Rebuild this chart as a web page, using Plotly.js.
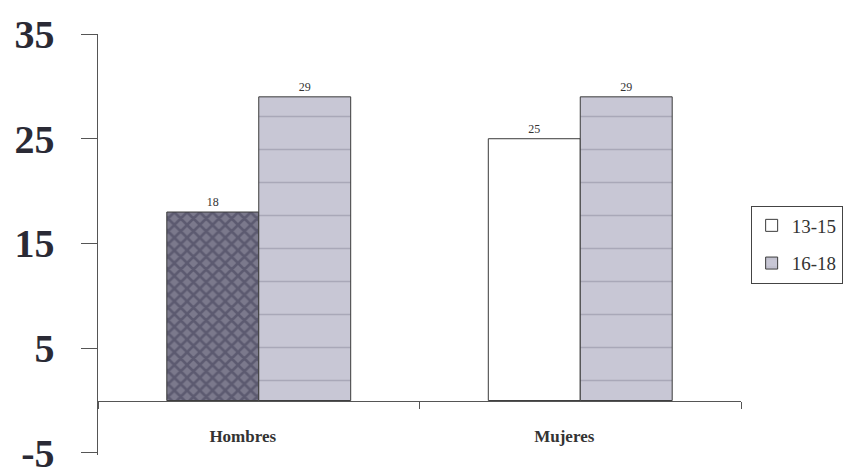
<!DOCTYPE html>
<html>
<head>
<meta charset="utf-8">
<script src="https://cdn.plot.ly/plotly-3.0.1.min.js"></script>
<style>html,body{margin:0;padding:0;background:#fff;}#chart{width:862px;height:475px;}</style>
</head>
<body>
<div id="chart"></div>
<script>
const categories = ['Hombres', 'Mujeres'];
const seriesNames = ['13-15', '16-18'];
const values1315 = [18, 25];
const values1618 = [29, 29];
const yTicks = [-5, 5, 15, 25, 35];

const serif = 'Liberation Serif';
const textFont = {family: serif, size: 12, color: '#333'};

const traces = [
  // 13-15, Mujeres (white bar, shown in legend)
  {
    type: 'bar', name: seriesNames[0], legendgroup: 'a',
    x: [categories[1]], y: [values1315[1]],
    text: [String(values1315[1])], textposition: 'outside', textfont: textFont,
    offsetgroup: '1', cliponaxis: false,
    marker: {color: '#ffffff', line: {color: '#3a3a3a', width: 1}}
  },
  // 13-15, Hombres (dark patterned bar)
  {
    type: 'bar', name: seriesNames[0], legendgroup: 'a', showlegend: false,
    x: [categories[0]], y: [values1315[0]],
    text: [String(values1315[0])], textposition: 'outside', textfont: textFont,
    offsetgroup: '1', cliponaxis: false,
    marker: {color: '#6f6d80', line: {color: '#3a3a3a', width: 1},
             pattern: {shape: 'x', fgcolor: '#5c5a70', bgcolor: '#7b798c', size: 9, solidity: 0.5}}
  },
  // 16-18
  {
    type: 'bar', name: seriesNames[1], legendgroup: 'b',
    x: categories, y: values1618,
    text: values1618.map(String), textposition: 'outside', textfont: textFont,
    offsetgroup: '2', cliponaxis: false,
    marker: {color: '#c6c5d3', line: {color: '#3a3a3a', width: 1},
             pattern: {shape: '-', fgcolor: '#a9a8b8', bgcolor: '#c8c7d5', size: 33, solidity: 0.05}}
  }
];

const layout = {
  width: 862, height: 475,
  font: {family: serif, color: '#333'},
  paper_bgcolor: '#ffffff', plot_bgcolor: '#ffffff',
  margin: {l: 98, r: 121, t: 34, b: 20},
  barmode: 'group', bargap: 0.428, bargroupgap: 0,
  showlegend: true,
  legend: {
    x: 1.015, xanchor: 'left', y: 0.5, yanchor: 'middle',
    font: {family: serif, size: 19, color: '#333'},
    bordercolor: '#444', borderwidth: 1, bgcolor: '#ffffff',
    traceorder: 'grouped', tracegroupgap: 10
  },
  xaxis: {
    type: 'category', categoryorder: 'array', categoryarray: categories,
    range: [-0.5, 1.5],
    anchor: 'free', position: 5.2 / 40.2,
    showline: true, linecolor: '#555', linewidth: 1.5,
    ticks: 'outside', tickson: 'boundaries', ticklen: 7, tickcolor: '#555',
    showgrid: false, zeroline: false,
    tickfont: {family: serif, size: 17, color: '#333', weight: 'bold'},
    ticklabelstandoff: 20, ticklabelshift: -16
  },
  yaxis: {
    range: [-5.2, 35], tickvals: yTicks, ticktext: yTicks.map(String),
    showline: true, linecolor: '#555', linewidth: 1.5,
    ticks: 'outside', ticklen: 16, tickcolor: '#555',
    showgrid: false, zeroline: false,
    tickfont: {family: serif, size: 40, color: '#2a2a35', weight: 'bold'},
    ticklabelstandoff: 18, ticklabeloverflow: 'allow'
  }
};

Plotly.newPlot('chart', traces, layout, {displayModeBar: false, staticPlot: true});
</script>
</body>
</html>
